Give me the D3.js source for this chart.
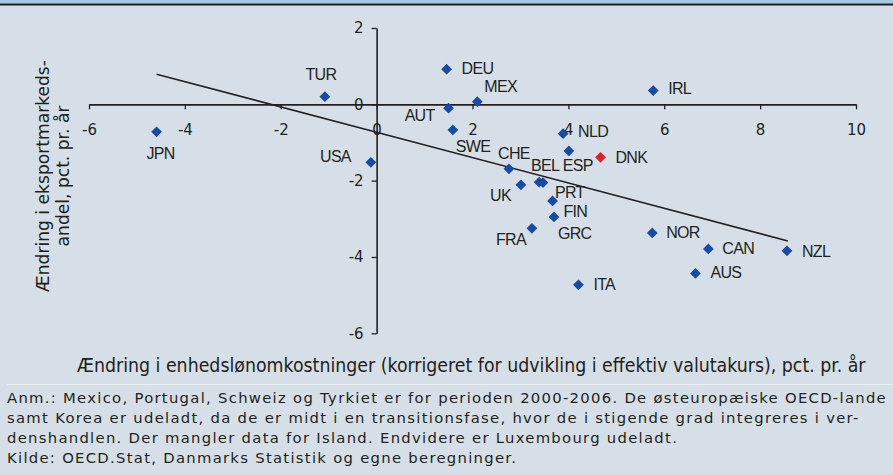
<!DOCTYPE html>
<html>
<head>
<meta charset="utf-8">
<script src="https://cdn.jsdelivr.net/npm/d3@7"></script>
<style>
  html, body { margin: 0; padding: 0; background: #d6dfe7; }
  svg { display: block; }
  text { fill: #231f20; }
</style>
</head>
<body>
<div id="root"></div>
<script>
// Data
const countries = ['JPN', 'TUR', 'USA', 'DEU', 'MEX', 'AUT', 'SWE', 'NLD', 'ESP', 'DNK', 'CHE', 'UK',
  'BEL', 'PRT', 'FIN', 'GRC', 'FRA', 'NOR', 'CAN', 'AUS', 'NZL', 'ITA', 'IRL'];
const labourCost = [-4.59, -1.08, -0.12, 1.46, 2.10, 1.50, 1.59, 3.89, 4.01, 4.67, 2.76, 3.01,
  3.39, 3.47, 3.67, 3.70, 3.24, 5.75, 6.92, 6.65, 8.56, 4.21, 5.77];
const exportShare = [-0.72, 0.20, -1.52, 0.92, 0.07, -0.10, -0.67, -0.77, -1.22, -1.39, -1.69, -2.11,
  -2.04, -2.05, -2.53, -2.95, -3.25, -3.37, -3.79, -4.43, -3.84, -4.73, 0.36];
const trendX = [-4.59, 8.58];
const trendY = [0.79, -3.58];
const xTicks = [-6, -4, -2, 0, 2, 4, 6, 8, 10];
const yTicks = [-6, -4, -2, 0, 2];

const xTitle = 'Ændring i enhedslønomkostninger (korrigeret for udvikling i effektiv valutakurs), pct. pr. år';
const yTitle = ['Ændring i eksportmarkeds-', 'andel, pct. pr. år'];
const notes = [
  'Anm.: Mexico, Portugal, Schweiz og Tyrkiet er for perioden 2000-2006. De østeuropæiske OECD-lande',
  'samt Korea er udeladt, da de er midt i en transitionsfase, hvor de i stigende grad integreres i ver-',
  'denshandlen. Der mangler data for Island. Endvidere er Luxembourg udeladt.',
  'Kilde: OECD.Stat, Danmarks Statistik og egne beregninger.'
];

const width = 893, height = 475;
const points = countries.map((c, i) => ({ name: c, x: labourCost[i], y: exportShare[i] }));

// label placement: [dx, dy, anchor]
const labelPos = {
  JPN: [4, 21, 'middle'], TUR: [-4, -22, 'middle'], USA: [-20, -6, 'end'],
  DEU: [15, -1, 'start'], MEX: [7, -15, 'start'], AUT: [-14, 7, 'end'],
  SWE: [3, 16, 'start'], NLD: [15, -2, 'start'], ESP: [-6, 14, 'start'],
  DNK: [15, 0, 'start'], CHE: [5, -16, 'middle'], UK: [-10, 10, 'end'],
  BEL: [6, -17, 'middle'], PRT: [12, 10, 'start'], FIN: [11, 10, 'start'],
  GRC: [4, 16, 'start'], FRA: [-6, 11, 'end'], NOR: [14, -1, 'start'],
  CAN: [14, -1, 'start'], AUS: [15, -1, 'start'], NZL: [15, 0, 'start'],
  ITA: [15, -1, 'start'], IRL: [15, -2, 'start']
};

const svg = d3.select('#root')
  .append('svg')
  .attr('width', width)
  .attr('height', height);

svg.append('rect').attr('width', width).attr('height', height).attr('fill', '#d6dfe7');
svg.append('rect').attr('width', width).attr('height', 3.5).attr('fill', '#a3cbe6');
svg.append('line').attr('x1', 0).attr('x2', width).attr('y1', 4.5).attr('y2', 4.5)
  .attr('stroke', '#1b1b1b').attr('stroke-width', 2);

const x = d3.scaleLinear().domain([-6, 10]).range([89, 856]);
const y = d3.scaleLinear().domain([-6, 2]).range([333.3, 28]);

const tickFont = '15px "DejaVu Sans", Verdana, sans-serif';

// x axis through y = 0
const xAxis = svg.append('g')
  .attr('transform', `translate(0,${y(0)})`)
  .call(d3.axisBottom(x).tickValues(xTicks).tickFormat(d3.format('d')).tickSize(5).tickSizeOuter(0).tickPadding(15));

// y axis through x = 0
const yAxis = svg.append('g')
  .attr('transform', `translate(${x(0)},0)`)
  .call(d3.axisLeft(y).tickValues(yTicks).tickFormat(d3.format('d')).tickSize(5).tickSizeOuter(0).tickPadding(8));

[xAxis, yAxis].forEach(g => {
  g.select('.domain').attr('stroke', '#231f20').attr('stroke-width', 1.6);
  g.selectAll('.tick line').attr('stroke', '#231f20').attr('stroke-width', 1.3);
  g.selectAll('.tick text').style('font', tickFont).attr('fill', '#231f20')
    .text(d => d3.format('d')(d).replace('−', '-'));
});

// trend line
svg.append('path')
  .datum(trendX.map((v, i) => [v, trendY[i]]))
  .attr('d', d3.line().x(d => x(d[0])).y(d => y(d[1])))
  .attr('fill', 'none')
  .attr('stroke', '#231f20')
  .attr('stroke-width', 1.6);

// points
svg.append('g').selectAll('path')
  .data(points)
  .enter()
    .append('path')
    .attr('d', d3.symbol(d3.symbolSquare, 58)())
    .attr('transform', d => `translate(${x(d.x)},${y(d.y)}) rotate(45)`)
    .attr('fill', d => d.name === 'DNK' ? '#d3262b' : '#1a4ba0');

// country labels
svg.append('g').selectAll('text')
  .data(points)
  .enter()
    .append('text')
    .attr('x', d => x(d.x) + labelPos[d.name][0])
    .attr('y', d => y(d.y) + labelPos[d.name][1])
    .attr('dy', '0.36em')
    .attr('text-anchor', d => labelPos[d.name][2])
    .style('font', '16px "Liberation Sans", Arial, sans-serif')
    .style('letter-spacing', '-0.7px')
    .text(d => d.name);

// fit a text element to a target width by adjusting font size
function fit(sel, target) {
  const w = sel.node().getComputedTextLength();
  const fs = parseFloat(sel.style('font-size'));
  sel.style('font-size', (fs * target / w) + 'px');
}

// y title
const yt = svg.append('text')
  .attr('transform', 'translate(49,176) rotate(-90)')
  .attr('text-anchor', 'middle')
  .style('font', '16px "DejaVu Sans", Verdana, sans-serif');
yt.append('tspan').attr('x', 0).attr('y', 0).text(yTitle[0]);
yt.append('tspan').attr('x', 0).attr('y', 20).text(yTitle[1]);
fit(yt.select('tspan'), 232);
yt.selectAll('tspan').style('font-size', yt.select('tspan').style('font-size'));

// x title
const xt = svg.append('text')
  .attr('x', 77).attr('y', 372)
  .style('font', '15px "DejaVu Sans Condensed", "DejaVu Sans", sans-serif')
  .text(xTitle);
fit(xt, 789);

// separator
svg.append('line').attr('x1', 7).attr('x2', width).attr('y1', 384.5).attr('y2', 384.5)
  .attr('stroke', '#e9eef3').attr('stroke-width', 1);

// notes: fixed size, letter spacing tuned so the first line fills the width
const nt = svg.append('g');
notes.forEach((t, i) => {
  nt.append('text')
    .attr('x', 7).attr('y', 402.7 + i * 20)
    .style('font', '14.8px "DejaVu Sans", Verdana, sans-serif')
    .text(t);
});
const first = nt.select('text');
const spare = 880 - first.node().getComputedTextLength();
nt.selectAll('text').style('letter-spacing', (spare / notes[0].length) + 'px');
</script>
</body>
</html>
